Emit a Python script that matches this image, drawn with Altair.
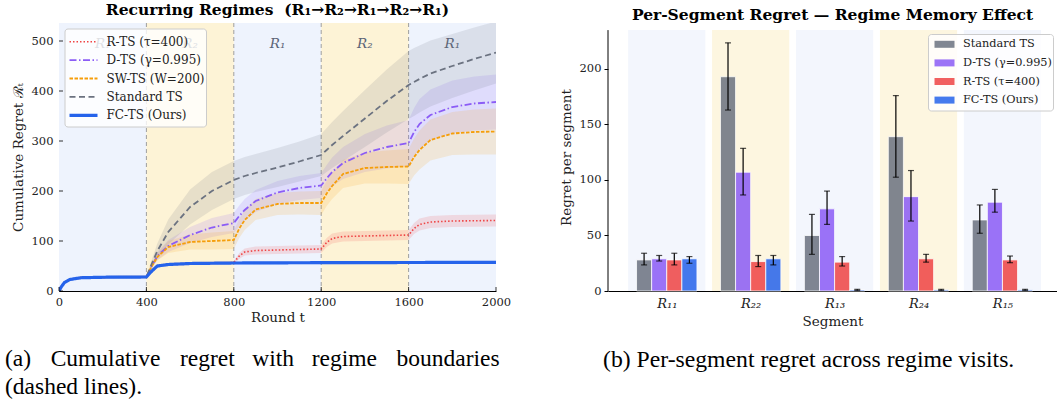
import json
import altair as alt
import pandas as pd

# ---------------- Panel (a): cumulative regret ----------------
T = [0, 10, 25, 50, 100, 200, 300, 400, 425, 450, 500, 600, 700, 800, 825, 850, 900, 1000,
     1100, 1200, 1225, 1250, 1300, 1400, 1500, 1600, 1625, 1650, 1700, 1800, 1900, 2000]
LINE_METHODS = ["R-TS (τ=400)", "D-TS (γ=0.995)", "SW-TS (W=200)", "Standard TS", "FC-TS (Ours)"]

R_TS = [0, 8, 17, 23, 26.5, 27.5, 27.8, 28, 40, 50, 53, 55, 55.5, 57, 70, 78, 81, 82, 83, 84,
        97, 105, 109, 110, 111, 112, 125, 133, 138, 140, 140.5, 141]
D_TS = [0, 8, 17, 23, 26.5, 27.5, 27.8, 28, 50, 70, 90, 112, 127, 136, 150, 162, 180, 197, 206, 211,
        225, 238, 256, 276, 288, 296, 318, 334, 352, 368, 375, 378]
SW_TS = [0, 8, 17, 23, 26.5, 27.5, 27.8, 28, 50, 68, 88, 98, 100, 102, 125, 142, 163, 174, 176, 176,
         195, 210, 234, 246, 248, 249, 268, 282, 302, 315, 318, 319]
STD_TS = [0, 8, 17, 23, 26.5, 27.5, 27.8, 28, 55, 80, 118, 168, 200, 222, 226, 230, 236, 247, 259, 272,
          282, 292, 310, 345, 380, 412, 418, 424, 435, 450, 464, 477]
FC_TS = [0, 8, 17, 23, 26.5, 27.5, 27.8, 28, 40, 50, 53, 55, 55.5, 56, 56, 56.1, 56.2, 56.4, 56.5, 56.6,
         56.6, 56.7, 56.7, 56.8, 56.9, 57, 57, 57, 57.1, 57.2, 57.3, 57.4]

R_SP = [0, 1, 1.5, 2, 2.5, 2.5, 2.5, 2.5, 3, 3, 3, 3, 3, 3, 6, 7, 8, 8, 8, 8,
        9, 10, 10, 10, 10, 10, 11, 12, 12, 12, 12, 12]
D_SP = [0, 1, 1.5, 2, 2.5, 2.5, 2.5, 2.5, 4, 8, 12, 16, 19, 20, 21, 22, 22, 23, 24, 25,
        27, 29, 32, 38, 43, 46, 48, 50, 51, 53, 54, 55]
SW_SP = [0, 1, 1.5, 2, 2.5, 2.5, 2.5, 2.5, 4, 7, 12, 15, 17, 18, 19, 20, 21, 22, 23, 24,
         25, 26, 28, 31, 33, 35, 37, 39, 41, 43, 45, 46]
STD_SP = [0, 1, 1.5, 2, 2.5, 2.5, 2.5, 2.5, 8, 15, 25, 35, 38, 38, 38, 38, 38, 39, 40, 42,
          44, 46, 50, 57, 63, 68, 68, 67, 66, 64, 63, 62]
FC_SP = [0, 1, 1.5, 2, 2.5, 2.5, 2.5, 2.5, 2.5, 3, 3, 3, 3, 3, 3, 3, 3, 3, 3, 3,
         3, 3, 3, 3, 3, 3, 3, 3, 3, 3, 3, 3]

REGIME_LABELS = ["R₁", "R₂", "R₁", "R₂", "R₁"]
REGIME_KIND = ["R1", "R2", "R1", "R2", "R1"]
REGIME_START = [0, 400, 800, 1200, 1600]
REGIME_END = [400, 800, 1200, 1600, 2000]
BOUNDARIES = [400, 800, 1200, 1600]
X_TICKS_A = [0, 400, 800, 1200, 1600, 2000]
Y_TICKS_A = [0, 100, 200, 300, 400, 500]

# ---------------- Panel (b): per-segment regret ----------------
SEGMENTS = ["R₁₁", "R₂₂", "R₁₃", "R₂₄", "R₁₅"]
SEG_KIND = ["R1", "R2", "R1", "R2", "R1"]
BAR_METHODS = ["Standard TS", "D-TS (γ=0.995)", "R-TS (τ=400)", "FC-TS (Ours)"]
STD_MEAN = [28, 193, 50, 139, 64]
STD_LO = [23.5, 163, 33, 102.5, 52]
STD_HI = [34, 223.5, 69, 176, 77.5]
D_MEAN = [29, 107, 74, 85, 80]
D_LO = [27, 86.5, 60, 63, 71]
D_HI = [32, 128.5, 90, 108.5, 91.5]
R_MEAN = [28, 26.5, 26, 29, 28]
R_LO = [23.5, 22, 22.5, 26, 25.5]
R_HI = [34, 32, 31, 33, 31.5]
FC_MEAN = [29, 29, 1, 1, 1]
FC_LO = [25, 23.5, 0.5, 0.5, 0.5]
FC_HI = [31, 32, 1.5, 1.5, 1.5]
Y_TICKS_B = [0, 50, 100, 150, 200]

CAPTION_A = ["(a)", "Cumulative", "regret", "with", "regime", "boundaries"]
CAPTION_A2 = "(dashed lines)."
CAPTION_B = "(b) Per-segment regret across regime visits."

# ---------------- styles ----------------
LINE_COLORS = ["#ef4444", "#8b5cf6", "#f59e0b", "#6b7280", "#2563eb"]
LINE_DASH = [[1.5, 2], [7, 2.5, 1.5, 2.5], [3.5, 1.5], [6, 3.5], [1, 0]]
LINE_W = [1.6, 1.8, 1.8, 1.8, 3.2]
BAR_COLORS = ["#6b7280", "#8b5cf6", "#ef4444", "#2563eb"]
SERIF = "DejaVu Serif"
CAP_FONT = "Liberation Serif"

W_A, H = 437, 268
W_B = 449

# ---------- panel (a) ----------
rows = []
for m, ys, sp in zip(LINE_METHODS, [R_TS, D_TS, SW_TS, STD_TS, FC_TS], [R_SP, D_SP, SW_SP, STD_SP, FC_SP]):
    for t, v, s in zip(T, ys, sp):
        rows.append({"method": m, "t": t, "v": v, "lo": v - s, "hi": v + s})
df_a = pd.DataFrame(rows)
reg_df = pd.DataFrame({"t": REGIME_START, "t2": REGIME_END, "label": REGIME_LABELS, "kind": REGIME_KIND})
reg_df["mid"] = (reg_df["t"] + reg_df["t2"]) / 2

xs_a = alt.Scale(domain=[0, 2000], nice=False, zero=False)
ys_a = alt.Scale(domain=[0, 536], nice=False)
ax_xa = alt.Axis(values=X_TICKS_A, format="d", tickSize=0, labelPadding=5, labelFlush=False,
                 titlePadding=3, grid=False)
ax_ya = alt.Axis(values=Y_TICKS_A, format="d", tickSize=0, labelPadding=6, labelFlush=False,
                 titlePadding=6, grid=False)


def XA(f):
    return alt.X(f, type="quantitative", scale=xs_a, axis=ax_xa, title="Round t")


def YA(f):
    return alt.Y(f, type="quantitative", scale=ys_a, axis=ax_ya, title="Cumulative Regret ℛₜ")


bands_a = [
    alt.Chart(reg_df).transform_filter(alt.FieldEqualPredicate(field="kind", equal=k))
    .mark_rect(color=c).encode(x=XA("t"), x2="t2", y=alt.value(0), y2=alt.value(H))
    for k, c in [("R1", "#eef3fd"), ("R2", "#fdf3d6")]
]
vlines = alt.Chart(pd.DataFrame({"t": BOUNDARIES})).mark_rule(
    color="#9e9e9e", strokeDash=[4, 3], strokeWidth=1).encode(x=XA("t"))
reg_text = alt.Chart(reg_df).mark_text(font=SERIF, fontStyle="italic", fontSize=13.5, color="#5b6477").encode(
    x=XA("mid"), y=alt.value(21), text="label:N")
areas = [
    alt.Chart(df_a).transform_filter(alt.FieldEqualPredicate(field="method", equal=m))
    .mark_area(color=c, opacity=0.15, clip=True).encode(x=XA("t"), y=YA("lo"), y2="hi")
    for m, c in zip(LINE_METHODS, LINE_COLORS)
]
lines = [
    alt.Chart(df_a).transform_filter(alt.FieldEqualPredicate(field="method", equal=m))
    .mark_line(clip=True, color=c, strokeDash=d, strokeWidth=w).encode(x=XA("t"), y=YA("v"))
    for m, c, d, w in zip(LINE_METHODS, LINE_COLORS, LINE_DASH, LINE_W)
]
yt = alt.Chart(pd.DataFrame({"v": Y_TICKS_A})).mark_rule(color="black", strokeWidth=0.8).encode(
    y=YA("v"), x=alt.value(0), x2=alt.value(4))
xt = alt.Chart(pd.DataFrame({"t": X_TICKS_A})).mark_rule(color="black", strokeWidth=0.8).encode(
    x=XA("t"), y=alt.value(H), y2=alt.value(H - 4))

# legend (a), drawn as marks
one = pd.DataFrame({"k": [0]})
LEG_A_Y0, LEG_A_DY = 18.7, 18.4
leg_a_box = alt.Chart(one).mark_rect(fill="white", fillOpacity=0.8, stroke="#cccccc", strokeWidth=1,
                                     cornerRadius=3).encode(
    x=alt.value(6), x2=alt.value(147.5), y=alt.value(6), y2=alt.value(104))
leg_a_syms = [
    alt.Chart(one).mark_rule(color=c, strokeDash=d, strokeWidth=w).encode(
        x=alt.value(10.5), x2=alt.value(38.5), y=alt.value(LEG_A_Y0 + LEG_A_DY * i))
    for i, (c, d, w) in enumerate(zip(LINE_COLORS, LINE_DASH, LINE_W))
]
leg_a_df = pd.DataFrame({"label": LINE_METHODS, "row": list(range(len(LINE_METHODS)))})
leg_a_txt = alt.Chart(leg_a_df).transform_calculate(py=f"{LEG_A_Y0} + {LEG_A_DY} * datum.row").mark_text(
    font=SERIF, fontSize=12, align="left", baseline="middle", color="#222222").encode(
    x=alt.value(47.5), y=alt.Y("py:Q", scale=None), text="label:N")

NB = "\u00a0"
GAP_WIDE = NB * 3 + "\u200a"
GAP = NB * 3
cap_a1 = (CAPTION_A[0] + GAP_WIDE + CAPTION_A[1] + GAP_WIDE + GAP.join(CAPTION_A[2:5]) + GAP_WIDE
          + CAPTION_A[5])
cap_a = alt.Chart(pd.DataFrame({"txt": [cap_a1, CAPTION_A2], "yy": [365 - 22, 393 - 22]})).mark_text(
    font=CAP_FONT, fontSize=23.5, align="left", baseline="alphabetic", color="black").encode(
    x=alt.value(-54), y=alt.Y("yy:Q", scale=None), text="txt:N")

panel_a = alt.layer(*bands_a, vlines, reg_text, *areas, *lines, yt, xt, leg_a_box, *leg_a_syms,
                    leg_a_txt, cap_a).properties(
    width=W_A, height=H,
    title=alt.TitleParams("Recurring Regimes" + NB * 2 + "(R₁→R₂→R₁→R₂→R₁)", offset=4))

# ---------- panel (b) ----------
OFF = [-0.27, -0.09, 0.09, 0.27]
HALF = 0.09
brows = []
for j, (m, mean, lo, hi) in enumerate(zip(BAR_METHODS, [STD_MEAN, D_MEAN, R_MEAN, FC_MEAN],
                                         [STD_LO, D_LO, R_LO, FC_LO], [STD_HI, D_HI, R_HI, FC_HI])):
    for i in range(len(SEGMENTS)):
        xc = i + OFF[j]
        brows.append({"method": m, "x": xc, "x0": xc - HALF, "x1": xc + HALF,
                      "val": mean[i], "lo": lo[i], "hi": hi[i]})
df_b = pd.DataFrame(brows)
seg_df = pd.DataFrame({"i": list(range(len(SEGMENTS))), "kind": SEG_KIND})
seg_df["a"] = seg_df["i"] - 0.46
seg_df["b"] = seg_df["i"] + 0.46

xs_b = alt.Scale(domain=[-0.7, 4.65], nice=False, zero=False)
ys_b = alt.Scale(domain=[0, 241.4], nice=False)
ax_xb = alt.Axis(values=list(range(len(SEGMENTS))), tickSize=0, labelPadding=6, labelFlush=False,
                 labelExpr=json.dumps(SEGMENTS, ensure_ascii=False) + "[datum.value]",
                 labelFontStyle="italic", labelFontSize=13, titlePadding=4, grid=False)
ax_yb = alt.Axis(values=Y_TICKS_B, format="d", tickSize=4, labelPadding=3, domain=False,
                 titlePadding=6, grid=False)


def XB(f):
    return alt.X(f, type="quantitative", scale=xs_b, axis=ax_xb, title="Segment")


def YB(f):
    return alt.Y(f, type="quantitative", scale=ys_b, axis=ax_yb, title="Regret per segment")


bands_b = [
    alt.Chart(seg_df).transform_filter(alt.FieldEqualPredicate(field="kind", equal=k))
    .transform_calculate(top0="0", top="235")
    .mark_rect(color=c).encode(x=XB("a"), x2="b", y=YB("top0"), y2="top")
    for k, c in [("R1", "#f3f6fd"), ("R2", "#fdf6e0")]
]
bars = alt.Chart(df_b).mark_bar(stroke="white", strokeWidth=0.8, opacity=0.85).encode(
    x=XB("x0"), x2="x1", y=YB("val"), y2=alt.datum(0),
    color=alt.Color("method:N", scale=alt.Scale(domain=BAR_METHODS, range=BAR_COLORS), legend=None))
err = alt.Chart(df_b).mark_rule(color="black", strokeWidth=1.2).encode(x=XB("x"), y=YB("lo"), y2="hi")
cap_lo = alt.Chart(df_b).mark_tick(orient="horizontal", color="black", thickness=1.2, size=6).encode(
    x=XB("x"), y=YB("lo"))
cap_hi = alt.Chart(df_b).mark_tick(orient="horizontal", color="black", thickness=1.2, size=6).encode(
    x=XB("x"), y=YB("hi"))
spine = alt.Chart(pd.DataFrame({"y0": [0], "y1": [235]})).mark_rule(color="black", strokeWidth=1).encode(
    x=alt.value(0), y=YB("y0"), y2="y1")

# legend (b), drawn as marks
LEG_B_Y0, LEG_B_DY = 21.3, 18.6
leg_b_box = alt.Chart(one).mark_rect(fill="white", fillOpacity=0.8, stroke="#cccccc", strokeWidth=1,
                                     cornerRadius=3).encode(
    x=alt.value(320.5), x2=alt.value(445.5), y=alt.value(11.5), y2=alt.value(88))
leg_b_df = pd.DataFrame({"label": BAR_METHODS, "row": list(range(len(BAR_METHODS)))})
leg_b_sym = alt.Chart(leg_b_df).transform_calculate(
    py0=f"{LEG_B_Y0} + {LEG_B_DY} * datum.row - 3.5", py1=f"{LEG_B_Y0} + {LEG_B_DY} * datum.row + 3.5"
).mark_rect(opacity=0.85).encode(
    x=alt.value(326.5), x2=alt.value(346.5), y=alt.Y("py0:Q", scale=None), y2="py1:Q",
    color=alt.Color("label:N", scale=alt.Scale(domain=BAR_METHODS, range=BAR_COLORS), legend=None))
leg_b_txt = alt.Chart(leg_b_df).transform_calculate(py=f"{LEG_B_Y0} + {LEG_B_DY} * datum.row").mark_text(
    font=SERIF, fontSize=11.3, align="left", baseline="middle", color="#222222").encode(
    x=alt.value(355), y=alt.Y("py:Q", scale=None), text="label:N")

cap_b = alt.Chart(pd.DataFrame({"txt": [CAPTION_B]})).mark_text(
    font=CAP_FONT, fontSize=23.7, align="left", baseline="alphabetic", color="black").encode(
    x=alt.value(603 - 608), y=alt.value(366 - 22), text="txt:N")

panel_b = alt.layer(*bands_b, bars, err, cap_lo, cap_hi, spine, leg_b_box, leg_b_sym, leg_b_txt,
                    cap_b).properties(
    width=W_B, height=H,
    title=alt.TitleParams("Per-Segment Regret — Regime Memory Effect", offset=0))

chart = alt.hconcat(panel_a, panel_b, spacing=112, bounds="flush").properties(
    padding={"left": 5, "top": 3, "right": 0, "bottom": 0}
).configure_view(stroke=None).configure_axis(
    labelFont=SERIF, titleFont=SERIF, titleFontWeight="normal", labelFontSize=11.5, titleFontSize=13.5,
    labelColor="#222222", titleColor="#222222", domainColor="black", tickColor="black", domainWidth=1,
).configure_title(font=SERIF, fontSize=15.5, fontWeight="bold", color="black", anchor="middle")

chart.save("out.html", embed_options={"renderer": "svg", "actions": False})
